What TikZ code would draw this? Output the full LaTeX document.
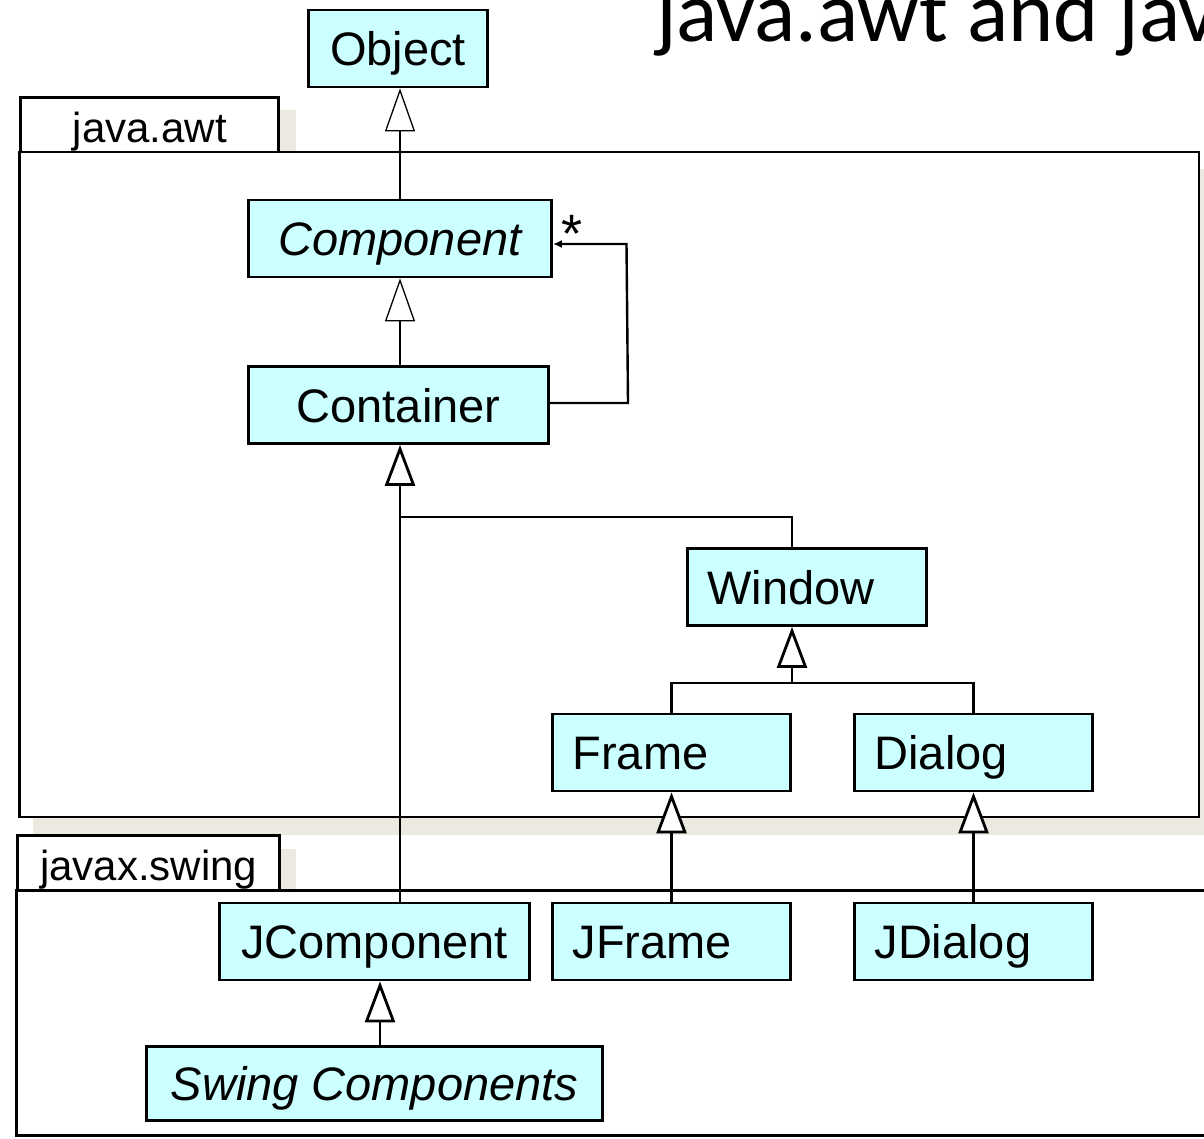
\documentclass[tikz,border=0pt]{standalone}
\usepackage{fontspec}
\setmainfont{Liberation Sans}
\newfontfamily\titlefont{Carlito}
\usetikzlibrary{arrows.meta}
\definecolor{boxfill}{RGB}{204,255,255}
\definecolor{shadowc}{RGB}{236,233,224}
\begin{document}
\begin{tikzpicture}[x=1pt,y=-1pt,
  box/.style={draw, line width=2.8pt, fill=boxfill, inner sep=0pt,
    minimum height=77pt, text height=34pt, text depth=0pt,
    font=\fontsize{47}{56}\selectfont},
  lbox/.style={box, text width=#1, align=left, inner xsep=20pt},
  pkgtab/.style={draw, line width=2.8pt, fill=white, inner sep=0pt,
    minimum width=258pt, minimum height=55pt, text height=35pt, text depth=0pt,
    font=\fontsize{42}{50}\selectfont},
  pkgline/.style={draw, line width=2.8pt, fill=white},
  gen/.style={-{Triangle[length=41pt,width=30pt,fill=white]}, line width=2.8pt},
  genthin/.style={-{Triangle[length=43pt,width=30pt,fill=white]}, line width=1.3pt},
  assoc/.style={-{Latex[length=9pt,width=8pt]}, line width=2.4pt}
]
\useasboundingbox (0,0) rectangle (1204,1139);
\clip (0,0) rectangle (1204,1139);

% title (cut at the right edge, as in the reference)
\node[anchor=base west, inner sep=0pt, font=\titlefont\fontsize{86}{100}\selectfont] (title) at (656,42) {java.awt and jav};

% ---- package java.awt ----
\fill[shadowc] (36,110) rectangle (296,170);
\fill[shadowc] (33,169) rectangle (1220,835);
\node[pkgtab, anchor=north west] (awttab) at (19.4,96.4) {java.awt};
\path[pkgline] (19.4,152) rectangle (1199,817);
\coordinate (awtbody) at (609,485);

% ---- package javax.swing ----
\fill[shadowc] (33,849) rectangle (296,908);
\node[pkgtab, anchor=north west, minimum width=262pt] (swtab) at (16.4,834.4) {javax.swing};
\path[pkgline] (16.4,890.5) rectangle (1225,1135.5);
\coordinate (swbody) at (609,1013);

% ---- classes ----
\node[box, minimum width=179pt] (obj) at (398,48.5) {Object};
\node[box, minimum width=303pt] (comp) at (400,238.5) {\itshape Component};
\node[box, minimum width=300pt] (cont) at (398.5,405) {Container};
\node[lbox=199pt] (win) at (807,587) {Window};
\node[lbox=198pt] (frame) at (671.5,752.5) {Frame};
\node[lbox=198pt] (dialog) at (973.5,752.5) {Dialog};
\node[box, minimum width=310pt] (jcomp) at (374.5,941.5) {JComponent};
\node[lbox=198pt] (jframe) at (671.5,941.5) {JFrame};
\node[lbox=198pt] (jdialog) at (973.5,941.5) {JDialog};
\node[box, minimum width=456pt, minimum height=74pt] (swing) at (374.5,1083.5) {\itshape Swing Components};

% ---- generalizations ----
\draw[genthin] (comp.north) -- (comp.north |- obj.south);
\draw[genthin] (comp.south |- cont.north) -- (comp.south);

\coordinate (trunk) at (400,517);
\coordinate (wbr) at (792,517);
\draw[line width=2.8pt] (win.north -| wbr) -- (wbr) -- (trunk);
\draw[gen] (jcomp.north -| trunk) -- (trunk |- cont.south);

\coordinate (wj) at (792,683);
\draw[line width=2.8pt] (frame.north) -- (frame.north |- wj) -- (dialog.north |- wj) -- (dialog.north);
\draw[gen] (wj) -- (wj |- win.south);

\draw[gen] (jframe.north) -- (frame.south);
\draw[gen] (jdialog.north) -- (dialog.south);

\coordinate (sx) at (380,0);
\draw[gen] (swing.north -| sx) -- (jcomp.south -| sx);

% ---- self association ----
\coordinate (a1) at (628,403);
\coordinate (a2) at (626.5,244);
\draw[assoc] (cont.east |- a1) -- (a1) -- (a2) -- (comp.east |- a2);
\node[inner sep=0pt, font=\fontsize{54}{60}\selectfont] (mult) at (572,234) {*};
\end{tikzpicture}
\end{document}
